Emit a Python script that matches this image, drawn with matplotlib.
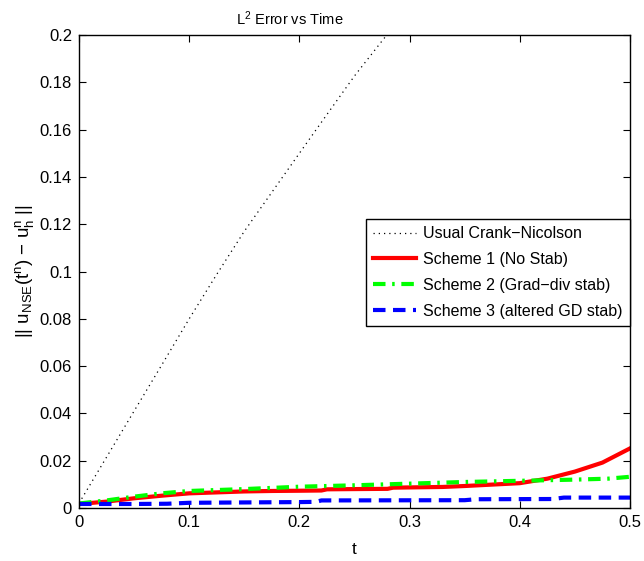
import matplotlib
matplotlib.use("Agg")
import matplotlib.pyplot as plt
import numpy as np

plt.rcParams['font.family'] = ['Liberation Sans', 'DejaVu Sans']
plt.rcParams['mathtext.fontset'] = 'custom'
plt.rcParams['mathtext.rm'] = 'Liberation Sans'
plt.rcParams['mathtext.it'] = 'Liberation Sans'

# Usual Crank-Nicolson
t_cn = [0.0, 0.025, 0.05, 0.075, 0.1, 0.125, 0.15, 0.175, 0.2, 0.225, 0.25, 0.275, 0.3]
e_cn = [0.002, 0.0215, 0.041, 0.0604, 0.080, 0.0988, 0.117, 0.1335, 0.150, 0.1664, 0.1827, 0.1975, 0.212]

# Scheme 1 (No Stab)
t_s1 = [0.0, 0.025, 0.05, 0.075, 0.1, 0.125, 0.15, 0.175, 0.2, 0.22, 0.225, 0.25, 0.28,
        0.285, 0.3, 0.33, 0.35, 0.375, 0.4, 0.425, 0.45, 0.475, 0.5]
e_s1 = [0.0017, 0.0027, 0.0041, 0.0052, 0.0062, 0.0066, 0.0070, 0.0072, 0.0073, 0.0074,
        0.0079, 0.0080, 0.0081, 0.0086, 0.0087, 0.0089, 0.0093, 0.0099, 0.0105, 0.0124,
        0.0154, 0.0192, 0.0252]

# Scheme 2 (Grad-div stab)
t_s2 = [0.0, 0.025, 0.05, 0.075, 0.1, 0.15, 0.2, 0.25, 0.3, 0.35, 0.4, 0.45, 0.48, 0.5]
e_s2 = [0.0019, 0.0032, 0.0048, 0.0062, 0.0072, 0.0080, 0.0090, 0.0096, 0.0103, 0.0110,
        0.0115, 0.0120, 0.0124, 0.0132]

# Scheme 3 (altered GD stab)
t_s3 = [0.0, 0.05, 0.08, 0.1, 0.2, 0.215, 0.22, 0.35, 0.36, 0.43, 0.44, 0.5]
e_s3 = [0.0017, 0.0017, 0.0018, 0.0022, 0.0025, 0.0026, 0.0032, 0.0033, 0.0037, 0.0038,
        0.0044, 0.0044]

labels = ['Usual Crank\u2212Nicolson', 'Scheme 1 (No Stab)',
          'Scheme 2 (Grad\u2212div stab)', 'Scheme 3 (altered GD stab)']

xticks = [0, 0.1, 0.2, 0.3, 0.4, 0.5]
yticks = [0, 0.02, 0.04, 0.06, 0.08, 0.1, 0.12, 0.14, 0.16, 0.18, 0.2]
xticklabels = ['0', '0.1', '0.2', '0.3', '0.4', '0.5']
yticklabels = ['0', '0.02', '0.04', '0.06', '0.08', '0.1', '0.12', '0.14', '0.16', '0.18', '0.2']

fig = plt.figure(figsize=(6.44, 5.61), dpi=100)
ax = fig.add_axes([79/644, 53/561, 551/644, 473/561])

ax.plot(t_cn, e_cn, color='black', lw=0.9, linestyle=(0, (1, 3.2)), label=labels[0])
ax.plot(t_s1, e_s1, color='#ff0000', lw=3, linestyle='-', label=labels[1])
ax.plot(t_s2, e_s2, color='#00ff00', lw=3, linestyle=(0, (3, 1.6, 0.6, 1.6)), label=labels[2])
ax.plot(t_s3, e_s3, color='#0000ff', lw=3, linestyle=(0, (3, 1.8)), label=labels[3])

ax.set_xlim(0, 0.5)
ax.set_ylim(0, 0.2)
ax.set_xticks(xticks)
ax.set_xticklabels(xticklabels)
ax.set_yticks(yticks)
ax.set_yticklabels(yticklabels)
ax.tick_params(direction='in', top=True, right=True, labelsize=12, length=5, width=0.8, pad=5)
for s in ax.spines.values():
    s.set_linewidth(1.0)

fig.text(290/644, 1 - 19/561, 'L$^2$ Error vs Time', fontsize=10.5, ha='center', va='center')
ax.set_xlabel('t', fontsize=12.5, labelpad=9)
ax.set_ylabel('|| u$_{NSE}$(t$^n$) \u2212 u$_h^n$ ||', fontsize=13.5, labelpad=3)

leg = ax.legend(loc='upper left', bbox_to_anchor=(287/551, 0.611), fontsize=11.5,
                frameon=True, fancybox=False, framealpha=1, edgecolor='black',
                handlelength=2.7, borderpad=0.45, labelspacing=0.68, handletextpad=0.44,
                borderaxespad=0)
leg.get_frame().set_linewidth(1.0)

fig.savefig('out.png', dpi=100)
